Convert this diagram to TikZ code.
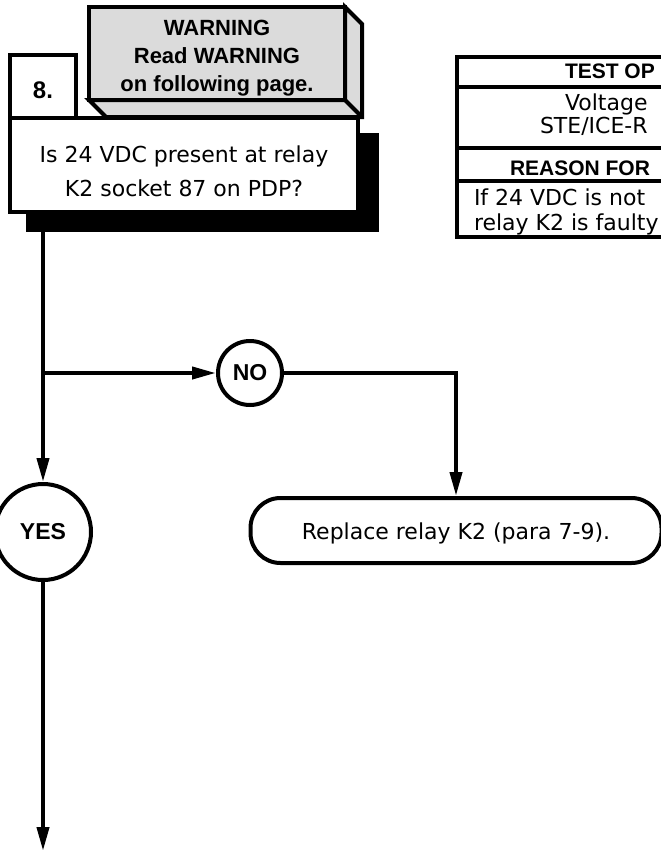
\documentclass[tikz,border=0pt]{standalone}
\usepackage{fontspec}
\setmainfont{DejaVu Sans}
\newfontfamily\headfont{Liberation Sans}
\usetikzlibrary{arrows.meta, positioning}
\definecolor{warngray}{gray}{0.86}

\begin{document}
\begin{tikzpicture}[x=1pt, y=-1pt, line width=4pt,
    flow/.style={-{Triangle[length=24pt, width=12pt]}},
    box/.style={draw, rectangle, fill=white, inner sep=0pt, outer sep=0pt},
    answer/.style={draw, circle, fill=white, inner sep=0pt, font=\headfont\bfseries\fontsize{23}{26}\selectfont},
    bodytext/.style={align=center, inner sep=0pt, font=\fontsize{22}{34}\selectfont},
    headtext/.style={align=center, inner sep=0pt, font=\headfont\bfseries\fontsize{22}{28}\selectfont},
    tabletext/.style={anchor=base west, inner sep=0pt, font=\fontsize{22}{24}\selectfont},
    tablehead/.style={anchor=base west, inner sep=0pt, font=\headfont\bfseries\fontsize{21}{24}\selectfont}]
    \useasboundingbox (0,0) rectangle (661,852);
    \clip (0,0) rectangle (661,852);

    % Warning block
    \node [box, fill=warngray, minimum width=256pt, minimum height=93pt] (warn) at (217,53.5) {};
    \draw [fill=warngray] (warn.south west) -- ++(17,17) -- ([shift={(17,17)}]warn.south east) coordinate (wb) -- ([shift={(17,17)}]warn.north east) -- (warn.north east) -- (warn.south east) -- cycle;
    \draw (warn.south east) -- (wb);
    \node [headtext] (warntext) at ([yshift=-5pt]warn.center) {WARNING\\Read WARNING\\on following page.};

    % Step box with shadow
    \node [fill=black, minimum width=353pt, minimum height=99pt, inner sep=0pt, outer sep=0pt] (qshadow) at (202.5,182.5) {};
    \node [box, minimum width=348pt, minimum height=94pt] (question) at (184,165) {};
    \node [bodytext] (qtext) at ([yshift=-6pt]question.center) {Is 24 VDC present at relay\\K2 socket 87 on PDP?};
    \node [box, minimum width=66pt, minimum height=63pt] (stepnum) at (43,86.5) {};
    \node [headtext, font=\headfont\bfseries\fontsize{24}{28}\selectfont] (steptext) at ([yshift=-4pt]stepnum.center) {8.};

    % Test options table
    \draw (457,57) rectangle (720,237);
    \foreach \y in {87,148,181}
        \draw (457,\y) -- (720,\y);
    \node [tablehead] (thead) at (563,78) {TEST OP};
    \node [tabletext] (tline1) at (563,110) {Voltage};
    \node [tabletext] (tline2) at (538,133) {STE/ICE-R};
    \node [tablehead] (rhead) at (508,175) {REASON FOR};
    \node [tabletext] (rline1) at (472,205) {If 24 VDC is not};
    \node [tabletext] (rline2) at (472,230) {relay K2 is faulty};

    % Answers and action
    \node [answer, minimum size=64pt] (no) at (250,373) {NO};
    \node [answer, minimum size=96pt] (yes) at (43,532) {YES};
    \node [draw, rounded corners=30pt, fill=white, minimum width=411pt, minimum height=65pt] (fix) at (456,530.5) {};
    \node [bodytext] (fixtext) at ([yshift=-3pt]fix.center) {Replace relay K2 (para 7-9).};

    % Connections
    \coordinate (split) at (yes.north |- no.west);
    \coordinate (exit) at (43,851);
    \draw [flow] (qshadow.south -| yes.north) -- (yes.north);
    \draw [flow] (split) -- (no.west);
    \draw [flow] (no.east) -| (fix.north);
    \draw [flow] (yes.south) -- (exit);
\end{tikzpicture}
\end{document}
